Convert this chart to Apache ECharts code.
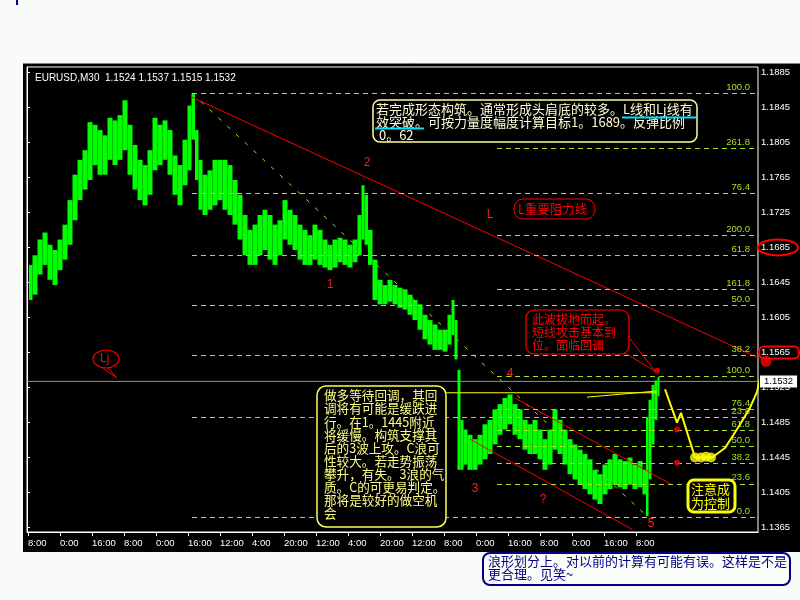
<!DOCTYPE html>
<html><head><meta charset="utf-8">
<script src="https://cdn.jsdelivr.net/npm/echarts@6/dist/echarts.min.js"></script>
<style>html,body{margin:0;padding:0;background:#f9fbf9;}#c{width:800px;height:600px;}</style>
</head><body><div id="c"></div>
<script>
// ---------- data ----------
const chartTitle = 'EURUSD,M30  1.1524 1.1537 1.1515 1.1532';
const timeTickBars = [1,33,65,97,129,161,193,225,257,289,321,353,385,417,449,481,513,545,577,609];
const timeTickLabels = ['8:00','0:00','16:00','8:00','0:00','16:00','12:00','4:00','20:00','12:00','4:00','20:00','12:00','8:00','0:00','16:00','8:00','0:00','16:00','8:00'];
const priceTicks = [1.1365,1.1405,1.1445,1.1485,1.1525,1.1565,1.1605,1.1645,1.1685,1.1725,1.1765,1.1805,1.1845,1.1885];

const barIndex = [3,8,13,18,23,28,33,38,43,48,53,58,63,68,73,78,83,88,93,98,103,108,113,118,123,128,133,138,143,148,153,158,163,166,170,173,178,183,188,193,198,203,208,213,218,223,228,233,238,243,248,253,258,263,268,273,278,283,288,293,298,303,308,313,318,323,328,333,336,339,343,348,353,358,363,368,373,378,383,388,393,398,403,408,413,418,423,426,429,432,435,438,443,448,453,458,463,468,473,478,483,488,493,498,503,508,513,518,523,528,533,538,543,548,553,558,563,568,573,578,583,588,593,598,603,608,613,618,620,623,626,629,632];
const barHigh = [1.1665,1.1676,1.1694,1.1702,1.1688,1.1682,1.1694,1.1711,1.1739,1.1768,1.1785,1.1796,1.1828,1.1825,1.1819,1.1813,1.1833,1.1830,1.1836,1.1853,1.1825,1.1802,1.1785,1.1779,1.1796,1.1833,1.1825,1.1830,1.1819,1.1790,1.1779,1.1808,1.1847,1.1861,1.1819,1.1785,1.1768,1.1773,1.1785,1.1785,1.1785,1.1779,1.1762,1.1745,1.1722,1.1705,1.1711,1.1722,1.1728,1.1722,1.1711,1.1716,1.1739,1.1728,1.1722,1.1711,1.1705,1.1699,1.1711,1.1705,1.1694,1.1688,1.1694,1.1696,1.1694,1.1688,1.1694,1.1722,1.1756,1.1745,1.1705,1.1671,1.1648,1.1642,1.1648,1.1642,1.1639,1.1637,1.1631,1.1625,1.1620,1.1608,1.1602,1.1597,1.1591,1.1591,1.1608,1.1625,1.1602,1.1545,1.1488,1.1477,1.1471,1.1466,1.1471,1.1483,1.1488,1.1500,1.1506,1.1513,1.1517,1.1506,1.1500,1.1488,1.1483,1.1488,1.1477,1.1466,1.1477,1.1500,1.1488,1.1477,1.1466,1.1460,1.1454,1.1449,1.1443,1.1431,1.1426,1.1437,1.1443,1.1449,1.1443,1.1441,1.1445,1.1437,1.1441,1.1431,1.1491,1.1511,1.1528,1.1533,1.1537];
const barLow = [1.1625,1.1631,1.1654,1.1665,1.1648,1.1642,1.1659,1.1671,1.1688,1.1716,1.1739,1.1751,1.1762,1.1779,1.1768,1.1768,1.1785,1.1779,1.1785,1.1796,1.1768,1.1751,1.1739,1.1733,1.1745,1.1773,1.1779,1.1785,1.1768,1.1745,1.1733,1.1756,1.1773,1.1808,1.1762,1.1728,1.1722,1.1728,1.1733,1.1739,1.1728,1.1722,1.1711,1.1694,1.1676,1.1665,1.1665,1.1676,1.1682,1.1671,1.1665,1.1676,1.1694,1.1688,1.1682,1.1671,1.1665,1.1665,1.1671,1.1665,1.1662,1.1659,1.1662,1.1668,1.1665,1.1662,1.1668,1.1676,1.1694,1.1688,1.1665,1.1625,1.1620,1.1620,1.1623,1.1620,1.1616,1.1614,1.1608,1.1602,1.1591,1.1580,1.1574,1.1568,1.1568,1.1566,1.1574,1.1585,1.1557,1.1431,1.1431,1.1437,1.1431,1.1431,1.1437,1.1443,1.1449,1.1460,1.1471,1.1477,1.1483,1.1471,1.1466,1.1454,1.1449,1.1449,1.1443,1.1431,1.1437,1.1454,1.1449,1.1437,1.1426,1.1420,1.1414,1.1409,1.1403,1.1397,1.1392,1.1403,1.1409,1.1414,1.1411,1.1409,1.1414,1.1409,1.1411,1.1403,1.1378,1.1420,1.1460,1.1488,1.1515];
const lastClose = 1.1532;

// Fibonacci tools
const fibAHigh = 1.1861, fibALow = 1.1377, fibAStartBar = 165;
const fibARatios = [0, 23.6, 38.2, 50, 61.8, 76.4, 100];
const fibBLow = 1.1377, fibBHigh = 1.1538, fibBStartBar = 470;
const fibBRatios = [23.6, 38.2, 50, 61.8, 76.4, 100, 161.8, 200, 261.8];
const fibDiagonal = [[165, 1.1861], [621, 1.1377]];

// trend / channel lines
const lineL = [[165, 1.18565], [731, 1.1559]];
const channelUpper = [[488, 1.1513], [645, 1.1414]];
const channelLower = [[443, 1.1466], [605, 1.1363]];
const yellowLink1 = [[419, 1.1519], [630, 1.1519]];
const yellowLink2 = [[560, 1.1514], [630, 1.1521]];
const forecastPath = [[638,1.1523],[650,1.1485],[654,1.1496],[668,1.1445],[685,1.1445],[698,1.1456],[711,1.1479],[723,1.1502],[730,1.1520],[733,1.1536],[737,1.1552]];
const forecastBlobs = [[668,1.1445],[674,1.1445],[679,1.1446],[684,1.1445]];
const redDots = [[630,1.1544],[650,1.1477],[650,1.1439]];
const targetDot = [[739,1.1555]];

const waveLabelText = ['1','2','3','4','5','?','L'];
const waveLabelBar = [303,340,448,483,624,516,463];
const waveLabelPrice = [1.1642,1.1782,1.1409,1.1541,1.1369,1.1397,1.1722];

// ---------- chart ----------
const X_MAX = 731;
const FIB = '#a4e21e';
const chart = echarts.init(document.getElementById('c'));

function fibLines(lo, hi, ratios, start) {
  return ratios.map(r => {
    const p = lo + (hi - lo) * r / 100;
    return [{coord:[start, p], name: r.toFixed(1)}, {coord:[X_MAX, p]}];
  });
}
function seg(data, color, width, extra) {
  return Object.assign({type:'line', data: data, symbol:'none', silent:true, animation:false,
    lineStyle:{color: color, width: width}}, extra || {});
}

const option = {
  backgroundColor: '#f9fbf9',
  animation: false,
  textStyle: {fontFamily: 'Liberation Sans'},
  title: {text: chartTitle, left: 30, top: 68, textStyle:{color:'#ffffff', fontSize: 10, fontWeight:'normal', fontFamily:'Liberation Sans'}},
  grid: {left: 27, right: 42, top: 67, bottom: 68, show: true, borderColor: '#ffffff', borderWidth: 1, backgroundColor: '#000000'},
  xAxis: {
    type: 'value', min: 0, max: X_MAX,
    axisLine: {show: true, lineStyle:{color:'#ffffff'}},
    axisTick: {show: true, customValues: timeTickBars, length: 4, lineStyle:{color:'#ffffff'}},
    axisLabel: {customValues: timeTickBars, color:'#ffffff', fontSize: 9.5, align:'left', margin: 6,
      formatter: v => timeTickLabels[timeTickBars.indexOf(v)] || ''},
    splitLine: {show: false}
  },
  yAxis: {
    type: 'value', position: 'right', min: 1.1360, max: 1.1891, scale: true,
    axisLine: {show: true, lineStyle:{color:'#ffffff'}},
    axisTick: {show: true, customValues: priceTicks, length: 3, lineStyle:{color:'#ffffff'}},
    axisLabel: {customValues: priceTicks, color:'#ffffff', fontSize: 9.5, margin: 3, formatter: v => v.toFixed(4)},
    splitLine: {show: false}
  },
  series: [
    // fibonacci levels
    {type:'line', data: [], z: 1, silent: true,
      markLine: {symbol:['none','none'], silent:true, animation:false,
        lineStyle:{color: FIB, type:[5,4], width:1},
        label:{show:true, position:'insideEndTop', color: FIB, fontSize: 9.5, distance:[8,1], formatter:'{b}'},
        data: fibLines(fibALow, fibAHigh, fibARatios, fibAStartBar).concat(fibLines(fibBLow, fibBHigh, fibBRatios, fibBStartBar))}},
    seg(fibDiagonal, FIB, 1, {z:1, lineStyle:{color: FIB, width:1, type:[4,8]}}),
    // current price line
    seg([[0, lastClose],[X_MAX, lastClose]], '#8595a6', 1, {z:2,
      endLabel:{show:true, formatter: lastClose.toFixed(4), color:'#000', backgroundColor:'#ffffff', padding:[1,4], fontSize:9.5, distance: 2}}),
    // price bars
    {type:'custom', z: 3, silent: true, animation:false,
      data: barIndex.map((b,i) => [b, barHigh[i], barLow[i]]),
      encode:{x:0, y:[1,2]},
      renderItem: function(params, api){
        const i = params.dataIndex;
        const b = api.value(0);
        const prev = i > 0 ? barIndex[i-1] : b - 2;
        const next = i < barIndex.length-1 ? barIndex[i+1] : b + 1;
        const top = api.coord([b, api.value(1)]);
        const bot = api.coord([b, api.value(2)]);
        const xl = api.coord([(prev + b)/2, 0])[0];
        const xr = api.coord([(next + b)/2, 0])[0];
        return {type:'rect', shape:{x: xl, y: top[1], width: Math.max(1, xr - xl), height: Math.max(1, bot[1]-top[1])},
          style:{fill:'#00ff00'}};
      }},
    // red lines
    seg(lineL, '#ff0000', 1, {z:4}),
    seg(channelUpper, '#ff0000', 1, {z:4}),
    seg(channelLower, '#ff0000', 1, {z:4}),
    // yellow links and forecast
    seg(yellowLink1, '#ffff00', 1, {z:5}),
    seg(yellowLink2, '#ffff00', 1, {z:5}),
    seg(forecastPath, '#ffff00', 2, {z:5, clip:false}),
    {type:'scatter', z:6, silent:true, data: forecastBlobs, symbolSize: 10, itemStyle:{color:'#ffff00'}},
    {type:'scatter', z:6, silent:true, data: redDots, symbolSize: 6, itemStyle:{color:'#ff0000'}},
    {type:'scatter', z:6, silent:true, data: targetDot, symbolSize: 11, clip:false, itemStyle:{color:'#ff0000'}},
    // wave labels
    {type:'custom', z:7, silent:true,
      data: waveLabelBar.map((b,i) => [b, waveLabelPrice[i], i]),
      renderItem: function(params, api){
        const pt = api.coord([api.value(0), api.value(1)]);
        return {type:'text', x: pt[0], y: pt[1],
          style:{text: waveLabelText[api.value(2)], fill:'#ff1a1a', fontSize: 12, fontFamily:'Liberation Sans', align:'center', verticalAlign:'middle'}};
      }}
  ]
};
chart.setOption(option);

// ---------- annotation boxes ----------
const CJK = 'Noto Sans CJK SC';
function box(x,y,w,h,r,stroke,lw,fill){return {type:'rect', z:100, silent:true, shape:{x:x,y:y,width:w,height:h,r:r}, style:{fill:fill||'#000000', stroke:stroke, lineWidth:lw}};}
function txt(x,y,text,color,size,lh,ff){return {type:'text', z:101, silent:true, style:{x:x,y:y,text:text,fill:color,fontSize:size,fontFamily:ff||CJK,lineHeight:lh,verticalAlign:'top'}};}
function ln(x1,y1,x2,y2,color,w){return {type:'line', z:101, silent:true, shape:{x1:x1,y1:y1,x2:x2,y2:y2}, style:{stroke:color, lineWidth:w||1}};}

const y1685 = chart.convertToPixel({yAxisIndex:0}, 1.1685);
const y1565 = chart.convertToPixel({yAxisIndex:0}, 1.1565);

chart.setOption({graphic: [
  {type:'rect', z:-10, silent:true, shape:{x:23, y:63, width:777, height:489}, style:{fill:'#000000'}},
  {type:'line', z:-9, silent:true, shape:{x1:23,y1:63.5,x2:800,y2:63.5}, style:{stroke:'#808080', lineWidth:1}},
  {type:'line', z:-9, silent:true, shape:{x1:17,y1:0,x2:17,y2:5}, style:{stroke:'#000080', lineWidth:2}},
  // top note
  box(373,100,324,42,7,'#ffff99',1.5),
  txt(376,103,'若完成形态构筑。通常形成头肩底的较多。L线和Lj线有\n效突破。可按力量度幅度计算目标1。1689。反弹比例\n 0。62','#ffffd8',13,13),
  ln(622,117.5,697,117.5,'#00e0ff',2),
  ln(375,128.5,424,128.5,'#00e0ff',2),
  // L resistance label
  box(514,199,81,20,9,'#ff0000',1),
  txt(518,202,'L重要阻力线','#ff0000',12.5,14),
  // red note
  box(526,310,103,44,8,'#ff0000',1.2),
  txt(532,313,'此波拔地而起。\n短线攻击基本到\n位。面临回调','#ff0000',12,13),
  ln(628,336,655,371,'#ff0000',1),
  ln(625,353,655,371,'#ff0000',1),
  // yellow long note
  box(317,386,129,141,9,'#ffff55',1.5),
  txt(324,389,'做多等待回调，其回\n调将有可能是缓跌进\n行。在1。1445附近\n将缓慢。构筑支撑其\n后的3波上攻。C浪可\n性较大。若走势振荡\n攀升，有失。3浪的气\n质。C的可更易判定。\n那将是较好的做空机\n会','#ffff88',12.6,13.1),
  // control note
  box(688,480,47,32,6,'#ffff00',3),
  txt(691,482,'注意成\n为控制','#ffff00',13,14),
  // Lj
  {type:'ellipse', z:101, silent:true, shape:{cx:106, cy:359, rx:13, ry:9}, style:{fill:'none', stroke:'#ff0000', lineWidth:1.2}},
  txt(100,352,'Lj','#ff0000',12,14,'Liberation Sans'),
  ln(103,368,117,378,'#ff0000',1),
  ln(108,368,117,378,'#ff0000',1),
  // axis highlights
  {type:'ellipse', z:101, silent:true, shape:{cx:778, cy:y1685, rx:20, ry:8}, style:{fill:'none', stroke:'#ff0000', lineWidth:2}},
  {type:'rect', z:101, silent:true, shape:{x:759, y:y1565-6, width:40, height:12, r:5}, style:{fill:'none', stroke:'#ff0000', lineWidth:2}},
  // bottom note
  box(483,553,307,32,7,'#000080',2,'#fbfdfb'),
  txt(488,555,'浪形划分上。对以前的计算有可能有误。这样是不是\n更合理。见笑~','#000080',13,13)
]});
</script>
</body></html>
